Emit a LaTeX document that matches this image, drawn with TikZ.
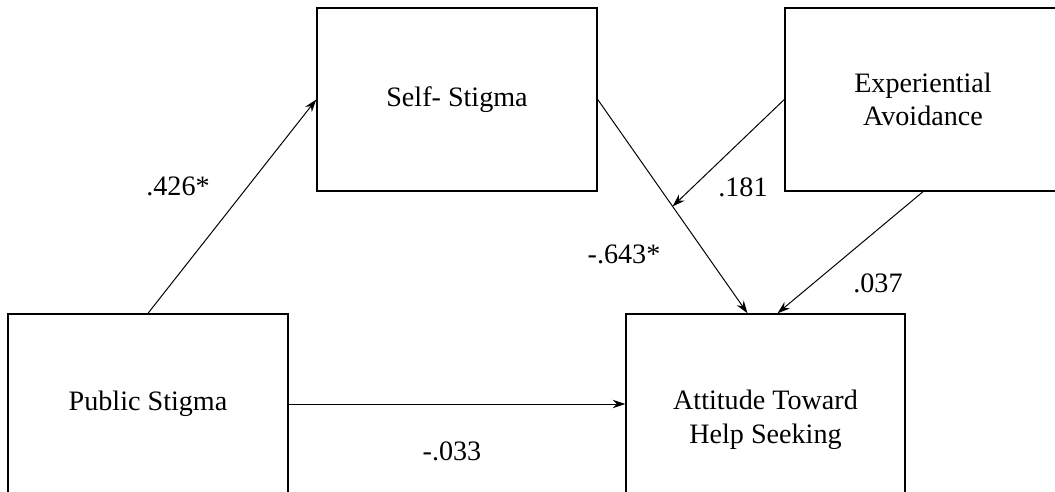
\documentclass[tikz,border=0pt]{standalone}
\usepackage{fontspec}
\setmainfont{Liberation Serif}
\usetikzlibrary{arrows.meta,calc}
\tikzset{
  varbox/.style={draw, line width=1pt, align=center, inner sep=0pt},
  path/.style={-{Stealth[length=9pt,width=6pt]}, line width=0.7pt},
  coef/.style={inner sep=0pt}
}

\begin{document}
\begin{tikzpicture}[x=0.025cm, y=-0.025cm, font=\fontsize{20}{24}\selectfont]
  \clip (0,0) rectangle (1055,492);
  % ---- variables ----
  \node[varbox, minimum width=280*0.025cm, minimum height=183*0.025cm]
    (self) at (457,99.5) {Self- Stigma};
  \node[varbox, minimum width=276*0.025cm, minimum height=183*0.025cm]
    (expav) at (923,99.5) {Experiential\\Avoidance};
  \node[varbox, minimum width=280*0.025cm, minimum height=180*0.025cm]
    (pub) at (148,404) {Public Stigma};
  \node[varbox, minimum width=279*0.025cm, minimum height=212*0.025cm]
    (att) at (765.5,420) {Attitude Toward\\Help Seeking};
  % ---- paths ----
  \draw[path] (pub.north) -- (self.west);
  \draw[path] (self.east) -- coordinate[pos=0.5] (hit) ($(att.north)+(-18,0)$);
  \draw[path] (expav.west) -- (hit);
  \draw[path] (expav.south) -- ($(att.north)+(12,0)$);
  \draw[path] (pub.east) -- (pub.east -| att.west);
  % ---- coefficients ----
  \node[coef] (c1) at (178,186) {.426*};
  \node[coef] (c2) at (624,254) {-.643*};
  \node[coef] (c3) at (743,187) {.181};
  \node[coef] (c4) at (878,283) {.037};
  \node[coef] (c5) at (452,451) {-.033};
\end{tikzpicture}
\end{document}
